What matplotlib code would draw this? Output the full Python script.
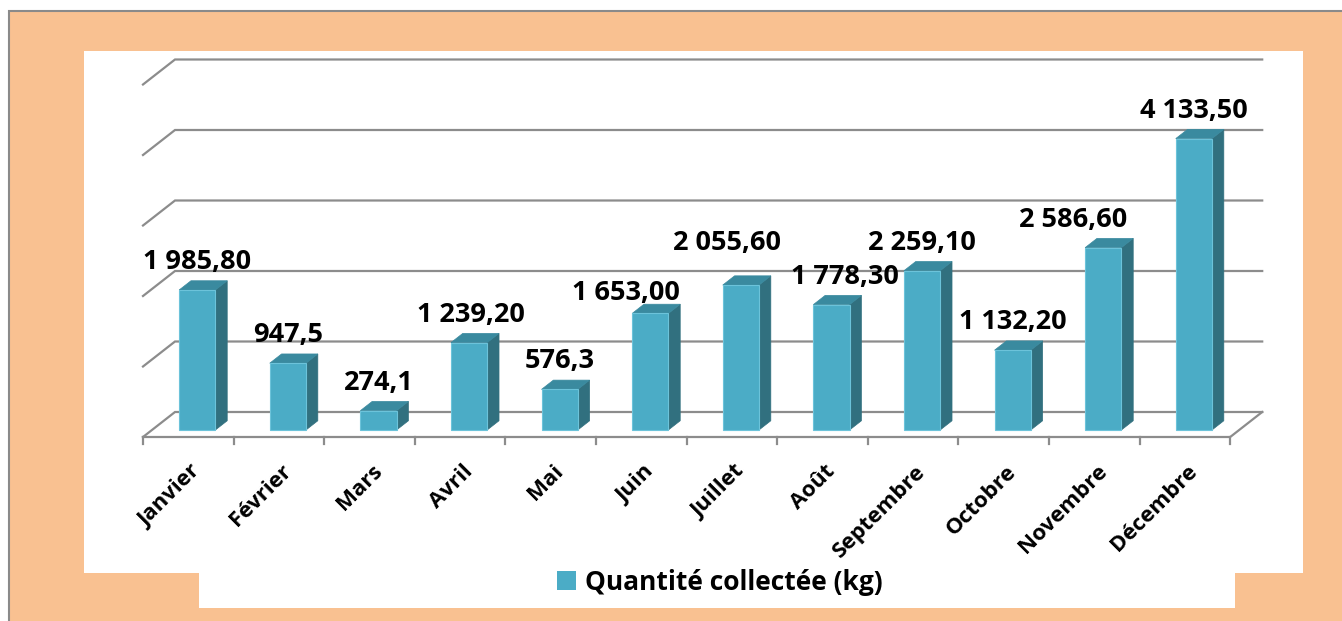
import numpy as np
import matplotlib
matplotlib.use("Agg")
import matplotlib.pyplot as plt
from matplotlib.patches import Rectangle, Polygon, Patch

# data
months = ["Janvier", "Février", "Mars", "Avril", "Mai", "Juin", "Juillet",
          "Août", "Septembre", "Octobre", "Novembre", "Décembre"]
quantities = [1985.8, 947.5, 274.1, 1239.2, 576.3, 1653.0, 2055.6,
              1778.3, 2259.1, 1132.2, 2586.6, 4133.5]
value_labels = ["1 985,80", "947,5", "274,1", "1 239,20", "576,3", "1 653,00",
                "2 055,60", "1 778,30", "2 259,10", "1 132,20", "2 586,60", "4 133,50"]
grid_levels = [0, 1000, 2000, 3000, 4000, 5000]
series_name = "Quantité collectée (kg)"

# label nudges in pixels (x, up) where Excel moved labels to avoid overlap
label_nudge = [(0, 0), (0, 0), (0, 0), (2, 0), (0, 0), (-24, -8), (-14, 14),
               (13, 0), (0, 0), (0, 0), (-30, 0), (0, 0)]

# colours
ORANGE = "#f9c191"
FRONT = "#4bacc6"
SIDE = "#31707f"
TOP = "#3a8a9f"
GRID = "#8c8c8c"

plt.rcParams['font.family'] = ['Open Sans', 'DejaVu Sans']

W, H = 1342, 621
fig = plt.figure(figsize=(W / 100, H / 100), dpi=100)
fig.patch.set_facecolor("white")


def frect(x0, y0, x1, y1, **kw):
    # rectangle given in pixel coords (top-left origin)
    r = Rectangle((x0 / W, 1 - y1 / H), (x1 - x0) / W, (y1 - y0) / H,
                  transform=fig.transFigure, **kw)
    fig.add_artist(r)


frect(9, 11, W + 5, H + 5, facecolor=ORANGE, edgecolor="#8a8a8a", linewidth=1.5, zorder=0)
frect(84, 51, 1303, 573, facecolor="white", edgecolor="none", zorder=0)
frect(199, 573, 1235, 608, facecolor="white", edgecolor="none", zorder=0)

# pixel geometry of the 3D box
X0, CW = 143, 90.6      # front-left corner of floor, px per category
Y0, VS = 437, 0.0705    # floor front edge, px per kg
ax = fig.add_axes([0, 0, 1, 1])
ax.set_xlim(-X0 / CW, (W - X0) / CW)
ax.set_ylim((Y0 - H) / VS, Y0 / VS)
ax.axis("off")
ax.patch.set_alpha(0)

dx, dy = 32 / CW, 25 / VS     # full depth of the box
t1, t2 = 0.28, 0.65           # bar front / back depth
n = len(months)

# back wall gridlines + left wall diagonals
for v in grid_levels:
    ax.plot([0, dx, n + dx], [v, v + dy, v + dy], color=GRID, lw=1.6,
            solid_joinstyle="miter", zorder=1)
# floor front edge and right edge
ax.plot([0, n, n + dx], [0, 0, dy], color=GRID, lw=1.6, zorder=1)
for i in range(n + 1):
    ax.plot([i, i], [0, -7 / VS], color=GRID, lw=1.6, zorder=1)

# bars
bw = 0.4
xc = np.arange(n) + 0.5 + t1 * dx
base = t1 * dy
ax.bar(xc, quantities, width=bw, bottom=base, color=FRONT,
       edgecolor="#6cc3da", linewidth=0.8, zorder=3)
ddx, ddy = (t2 - t1) * dx, (t2 - t1) * dy
for x, v in zip(xc, quantities):
    xl, xr, top = x - bw / 2, x + bw / 2, base + v
    ax.add_patch(Polygon([(xr, base), (xr, top), (xr + ddx, top + ddy), (xr + ddx, base + ddy)],
                         closed=True, facecolor=SIDE, edgecolor=SIDE, lw=0.5, zorder=2))
    ax.add_patch(Polygon([(xl, top), (xr, top), (xr + ddx, top + ddy), (xl + ddx, top + ddy)],
                         closed=True, facecolor=TOP, edgecolor=TOP, lw=0.5, zorder=2))

# value labels
for x, v, s, (nx, ny) in zip(xc, quantities, value_labels, label_nudge):
    ax.annotate(s, xy=(x, base + v), xytext=(nx, 21 + ny), textcoords="offset pixels",
                ha="center", va="baseline", fontsize=19.5, fontweight="bold",
                color="black", zorder=5)

# category labels
for i, m in enumerate(months):
    ax.text(i + 0.5 + 2 / CW, -24 / VS, m, rotation=45, rotation_mode="anchor",
            ha="right", va="top", fontsize=16, fontweight="bold", color="black")

# legend
leg = ax.legend(handles=[Patch(facecolor=FRONT, label=series_name)], loc="center",
                bbox_to_anchor=(720 / W, 1 - 582 / H), bbox_transform=fig.transFigure,
                frameon=False, prop={"size": 19, "weight": "bold"},
                handlelength=0.72, handleheight=0.72, handletextpad=0.35)

fig.savefig("out.png", dpi=100)
